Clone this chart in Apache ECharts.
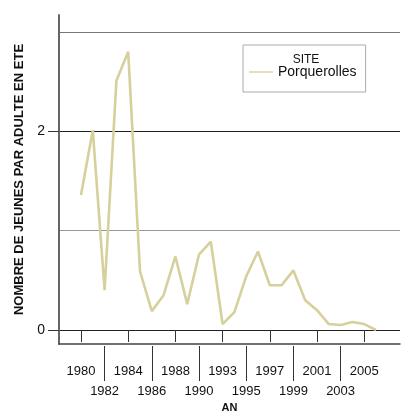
<!DOCTYPE html>
<html>
<head>
<meta charset="utf-8">
<script src="https://cdn.jsdelivr.net/npm/echarts@6/dist/echarts.min.js"></script>
<style>
html,body{margin:0;padding:0;background:#fff;}
#c{width:410px;height:418px;}
</style>
</head>
<body>
<div id="c"></div>
<script>
// Data
const years = ['1980','1981','1982','1983','1984','1985','1986','1987','1988','1989','1990','1991',
  '1993','1994','1995','1996','1997','1998','1999','2000','2001','2002','2003','2004','2005','2006'];
const porquerolles = [1.36, 2.01, 0.40, 2.51, 2.80, 0.59, 0.19, 0.35, 0.74, 0.26, 0.76, 0.89,
  0.06, 0.18, 0.54, 0.79, 0.45, 0.45, 0.60, 0.30, 0.20, 0.06, 0.05, 0.08, 0.06, 0.00];
const labelsRow1 = ['1980','1984','1988','1993','1997','2001','2005'];
const labelsRow2 = ['1982','1986','1990','1995','1999','2003'];
const yLabels = [0, 2];
const seriesName = 'Porquerolles';
const legendTitle = 'SITE';
const xTitle = 'AN';
const yTitle = 'NOMBRE DE JEUNES PAR ADULTE EN ETE';

const FONT = "'Liberation Sans Narrow','Arial Narrow','Liberation Sans',Arial,sans-serif";
const LINE_COLOR = '#d6d09c';

const chart = echarts.init(document.getElementById('c'), null, {renderer: 'canvas'});

function catAxis(row, tickLen, margin) {
  return {
    type: 'category', gridIndex: 3, data: years, boundaryGap: true,
    position: 'bottom', offset: 16,
    axisLine: {show: false},
    axisTick: {show: true, alignWithLabel: true, length: tickLen,
      interval: (i, v) => row.indexOf(years[i]) >= 0,
      lineStyle: {color: '#333', width: 1}},
    axisLabel: {show: true, margin: margin, color: '#111', fontFamily: FONT, fontSize: 13,
      interval: (i, v) => row.indexOf(years[i]) >= 0},
    splitLine: {show: false}
  };
}

const option = {
  animation: false,
  backgroundColor: '#fff',
  title: {
    text: legendTitle, left: 301, top: 49, textAlign: 'center',
    textStyle: {fontFamily: FONT, fontSize: 12, fontWeight: 'normal', color: '#111'}
  },
  legend: {
    data: [seriesName], left: 243, top: 45, orient: 'vertical',
    padding: [20, 9, 13, 6], borderColor: '#aaa', borderWidth: 1,
    icon: 'rect', itemWidth: 24, itemHeight: 1.3,
    itemStyle: {color: LINE_COLOR},
    textStyle: {fontFamily: FONT, fontSize: 14, color: '#111'}
  },
  grid: [
    {left: 59, top: 15, width: 341, height: 331, containLabel: false},
    {left: 59, top: 32, width: 341, height: 298, containLabel: false},
    {left: 59, top: 131, width: 341, height: 199, containLabel: false},
    {left: 75.1, top: 32, width: 306.8, height: 298, containLabel: false}
  ],
  xAxis: [
    {type: 'value', gridIndex: 0, min: 0, max: 1,
      axisLine: {show: true, onZero: false, lineStyle: {color: '#444', width: 1.5}},
      axisTick: {show: false}, axisLabel: {show: false}, splitLine: {show: false},
      name: xTitle, nameLocation: 'middle', nameGap: 58,
      nameTextStyle: {fontFamily: FONT, fontSize: 11, fontWeight: 'bold', color: '#111'}},
    {type: 'value', gridIndex: 1, min: 0, max: 1, show: false},
    {type: 'value', gridIndex: 2, min: 0, max: 1, show: false},
    catAxis(labelsRow1, 12, 19),
    catAxis(labelsRow2, 35, 39)
  ],
  yAxis: [
    {type: 'value', gridIndex: 0, min: 0, max: 1,
      axisLine: {show: true, onZero: false, lineStyle: {color: '#666', width: 2}},
      axisTick: {show: false}, axisLabel: {show: false}, splitLine: {show: false},
      name: yTitle, nameLocation: 'middle', nameGap: 33, nameRotate: 90,
      nameTextStyle: {fontFamily: FONT, fontSize: 13, fontWeight: 'bold', color: '#111'}},
    {type: 'value', gridIndex: 1, min: 0, max: 3, interval: 1,
      axisLine: {show: false}, axisTick: {show: false}, axisLabel: {show: false},
      splitLine: {show: true, lineStyle: {color: ['#222', '#999', '#222', '#777'], width: 1}}},
    {type: 'value', gridIndex: 2, min: yLabels[0], max: yLabels[1], interval: 2,
      axisLine: {show: false},
      axisTick: {show: true, length: 11, lineStyle: {color: '#333'}},
      axisLabel: {show: true, margin: 14, color: '#111', fontFamily: FONT, fontSize: 14},
      splitLine: {show: false}},
    {type: 'value', gridIndex: 3, min: 0, max: 3, show: false}
  ],
  series: [{
    name: seriesName, type: 'line', xAxisIndex: 3, yAxisIndex: 3,
    data: porquerolles, symbol: 'none', showSymbol: false,
    lineStyle: {color: LINE_COLOR, width: 2.6}, itemStyle: {color: LINE_COLOR},
    z: 5
  }]
};
chart.setOption(option);
</script>
</body>
</html>
